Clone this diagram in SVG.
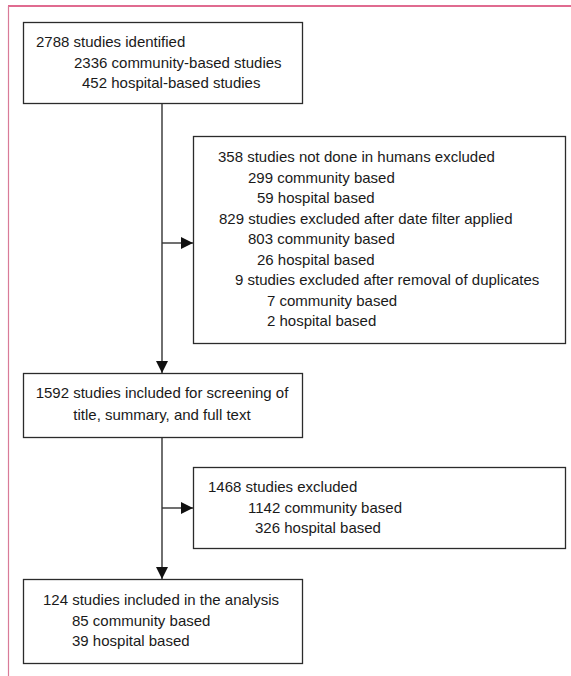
<svg xmlns="http://www.w3.org/2000/svg" width="571" height="676" viewBox="0 0 571 676">
<style>
.box{fill:#fff;stroke:#2b2b2b;stroke-width:1.3}
.ln{fill:none;stroke:#333;stroke-width:1.4}
text{font-family:"Liberation Sans","DejaVu Sans",sans-serif;font-size:15px;fill:#1a1a1a}
</style>
<defs>
<marker id="ah" viewBox="0 0 12 12" refX="12" refY="6" markerWidth="12" markerHeight="12" markerUnits="userSpaceOnUse" orient="auto">
<path d="M0,0 L12,6 L0,12 Z" fill="#111"/>
</marker>
</defs>
<rect width="571" height="676" fill="#fff"/>
<g id="frame">
<line x1="8" y1="6" x2="571" y2="6" stroke="#d63a6b" stroke-width="1.6"/>
<line x1="8.5" y1="6" x2="8.5" y2="676" stroke="#d97b98" stroke-width="1.2"/>
</g>
<g id="connectors">
<line class="ln" x1="162" y1="103" x2="162" y2="373" marker-end="url(#ah)"/>
<line class="ln" x1="162" y1="243" x2="193" y2="243" marker-end="url(#ah)"/>
<line class="ln" x1="162" y1="437" x2="162" y2="579" marker-end="url(#ah)"/>
<line class="ln" x1="162" y1="508" x2="193" y2="508" marker-end="url(#ah)"/>
</g>
<g id="n1">
<rect class="box" x="23.5" y="22.5" width="279" height="81"/>
<text x="36" y="47">2788 studies identified</text>
<text x="74" y="68">2336 community-based studies</text>
<text x="82" y="88">452 hospital-based studies</text>
</g>
<g id="n2">
<rect class="box" x="193.5" y="136.5" width="372" height="207"/>
<text x="218" y="162">358 studies not done in humans excluded</text>
<text x="248" y="182.5">299 community based</text>
<text x="257" y="203">59 hospital based</text>
<text x="219" y="223.5">829 studies excluded after date filter applied</text>
<text x="248" y="244">803 community based</text>
<text x="257" y="264.5">26 hospital based</text>
<text x="235" y="285">9 studies excluded after removal of duplicates</text>
<text x="267" y="305.5">7 community based</text>
<text x="267" y="326">2 hospital based</text>
</g>
<g id="n3">
<rect class="box" x="23.5" y="373.5" width="279" height="64"/>
<text x="162" y="398" text-anchor="middle">1592 studies included for screening of</text>
<text x="162" y="420" text-anchor="middle">title, summary, and full text</text>
</g>
<g id="n4">
<rect class="box" x="193.5" y="467.5" width="372" height="81"/>
<text x="208" y="492">1468 studies excluded</text>
<text x="248" y="512.5">1142 community based</text>
<text x="255" y="533">326 hospital based</text>
</g>
<g id="n5">
<rect class="box" x="23.5" y="579.5" width="279" height="84"/>
<text x="43" y="605">124 studies included in the analysis</text>
<text x="72" y="625.5">85 community based</text>
<text x="72" y="646">39 hospital based</text>
</g>
</svg>
